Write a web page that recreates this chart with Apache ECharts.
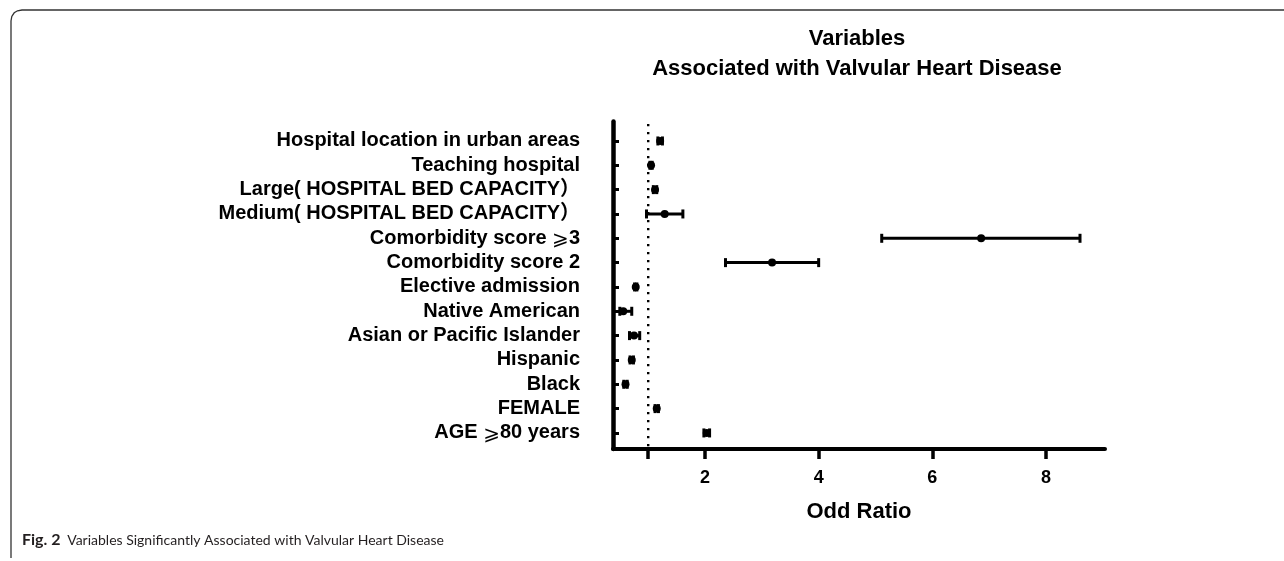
<!DOCTYPE html>
<html>
<head>
<meta charset="utf-8">
<script src="https://cdn.jsdelivr.net/npm/echarts@6/dist/echarts.min.js"></script>
<style>
html,body{margin:0;padding:0;background:#fff;}
#chart{width:1284px;height:561px;}
</style>
</head>
<body>
<div id="chart"></div>
<script>
// ---- data (top to bottom) ----
var categories = [
  'Hospital location in urban areas',
  'Teaching hospital',
  'Large( HOSPITAL BED CAPACITY）',
  'Medium( HOSPITAL BED CAPACITY）',
  'Comorbidity score ⩾3',
  'Comorbidity score 2',
  'Elective admission',
  'Native American',
  'Asian or Pacific Islander',
  'Hispanic',
  'Black',
  'FEMALE',
  'AGE ⩾80 years'
];
var oddsRatio = [1.21, 1.05, 1.12, 1.29, 6.86, 3.18, 0.78, 0.56, 0.75, 0.71, 0.60, 1.15, 2.03];
var ciLow     = [1.17, 1.03, 1.09, 0.97, 5.11, 2.36, 0.76, 0.50, 0.67, 0.68, 0.57, 1.12, 1.98];
var ciHigh    = [1.25, 1.07, 1.15, 1.61, 8.60, 4.00, 0.80, 0.71, 0.85, 0.74, 0.63, 1.18, 2.08];
var xTickValues  = [1, 2, 4, 6, 8];
var xLabelValues = [2, 4, 6, 8];
var refOR = 1;

var titleLines = ['Variables', 'Associated with Valvular Heart Disease'];
var xAxisName = 'Odd Ratio';
var captionBold = 'Fig. 2';
var captionText = 'Variables Significantly Associated with Valvular Heart Disease';

var rowIdx = categories.map(function (c, i) { return i; });
var yMin = -0.8, yMax = 12.66;

var ciData = rowIdx.map(function (i) { return [i, ciLow[i], oddsRatio[i], ciHigh[i]]; });

function renderItem(params, api) {
  var yi = api.value(0);
  var lo = api.coord([api.value(1), yi]);
  var mid = api.coord([api.value(2), yi]);
  var hi = api.coord([api.value(3), yi]);
  var st = { stroke: '#000', lineWidth: 3 };
  var capH = 4.5;
  return {
    type: 'group',
    children: [
      { type: 'line', shape: { x1: lo[0], y1: lo[1], x2: hi[0], y2: hi[1] }, style: st },
      { type: 'line', shape: { x1: lo[0], y1: lo[1] - capH, x2: lo[0], y2: lo[1] + capH }, style: st },
      { type: 'line', shape: { x1: hi[0], y1: hi[1] - capH, x2: hi[0], y2: hi[1] + capH }, style: st },
      { type: 'circle', shape: { cx: mid[0], cy: mid[1], r: 4 }, style: { fill: '#000' } }
    ]
  };
}

var FONT = '"Liberation Sans", Arial, "Noto Sans CJK SC", sans-serif';

function labelText(v) {
  var s = categories[Math.round(v)] || '';
  return s.replace('⩾', '{s|⩾}');
}

var chart = echarts.init(document.getElementById('chart'), null, { renderer: 'canvas' });
chart.setOption({
  backgroundColor: '#fff',
  animation: false,
  grid: { left: 613, top: 121.5, width: 492, height: 327.5 },
  xAxis: {
    type: 'value',
    min: 0.38,
    max: 9.04,
    name: xAxisName,
    nameLocation: 'middle',
    nameGap: 52,
    nameTextStyle: { fontFamily: FONT, fontWeight: 'bold', fontSize: 22, color: '#000' },
    axisLine: { onZero: false, lineStyle: { color: '#000', width: 4 } },
    axisTick: { show: true, customValues: xTickValues, length: 10, lineStyle: { color: '#000', width: 3.5 } },
    axisLabel: { customValues: xLabelValues, margin: 20, fontFamily: FONT, fontWeight: 'bold', fontSize: 18, color: '#000' },
    splitLine: { show: false }
  },
  yAxis: {
    type: 'value',
    inverse: true,
    min: yMin,
    max: yMax,
    axisLine: { onZero: false, lineStyle: { color: '#000', width: 4.5 } },
    axisTick: { show: true, inside: true, customValues: rowIdx, length: 6, lineStyle: { color: '#000', width: 3 } },
    axisLabel: {
      customValues: rowIdx,
      margin: 33,
      fontFamily: FONT,
      fontWeight: 'bold',
      fontSize: 20,
      color: '#000',
      formatter: labelText,
      rich: {
        s: { fontFamily: '"Noto Sans CJK SC", "DejaVu Sans", sans-serif', fontWeight: 'normal', fontSize: 20, color: '#000', padding: [0, 0, 2, 0] }
      }
    },
    splitLine: { show: false }
  },
  series: [
    {
      type: 'line',
      data: [[refOR, yMin + 0.1], [refOR, yMax]],
      symbol: 'none',
      silent: true,
      lineStyle: { color: '#000', width: 2.4, type: [2.4, 5.6] },
      z: 1
    },
    {
      type: 'custom',
      renderItem: renderItem,
      data: ciData,
      encode: { x: [1, 2, 3], y: 0 },
      z: 3
    }
  ],
  graphic: [
    {
      type: 'polyline',
      shape: { points: [[11, 558], [11, 21], [11.8, 16.5], [14.2, 12.8], [17.5, 10.8], [22, 10], [1284, 10]] },
      style: { stroke: '#333', lineWidth: 1.3, fill: null }
    },
    {
      type: 'text', x: 857, y: 24,
      style: { text: titleLines.join('\n'), textAlign: 'center', fontFamily: FONT, fontWeight: 'bold', fontSize: 22, lineHeight: 30, fill: '#000' }
    },
    {
      type: 'text', x: 22, y: 532,
      style: {
        text: '{b|' + captionBold + '}  {n|' + captionText + '}',
        rich: {
          b: { fontFamily: 'Lato, "Open Sans", sans-serif', fontWeight: 'bold', fontSize: 16, fill: '#231f20' },
          n: { fontFamily: 'Lato, "Open Sans", sans-serif', fontSize: 14, fill: '#231f20' }
        }
      }
    }
  ]
});
</script>
</body>
</html>
